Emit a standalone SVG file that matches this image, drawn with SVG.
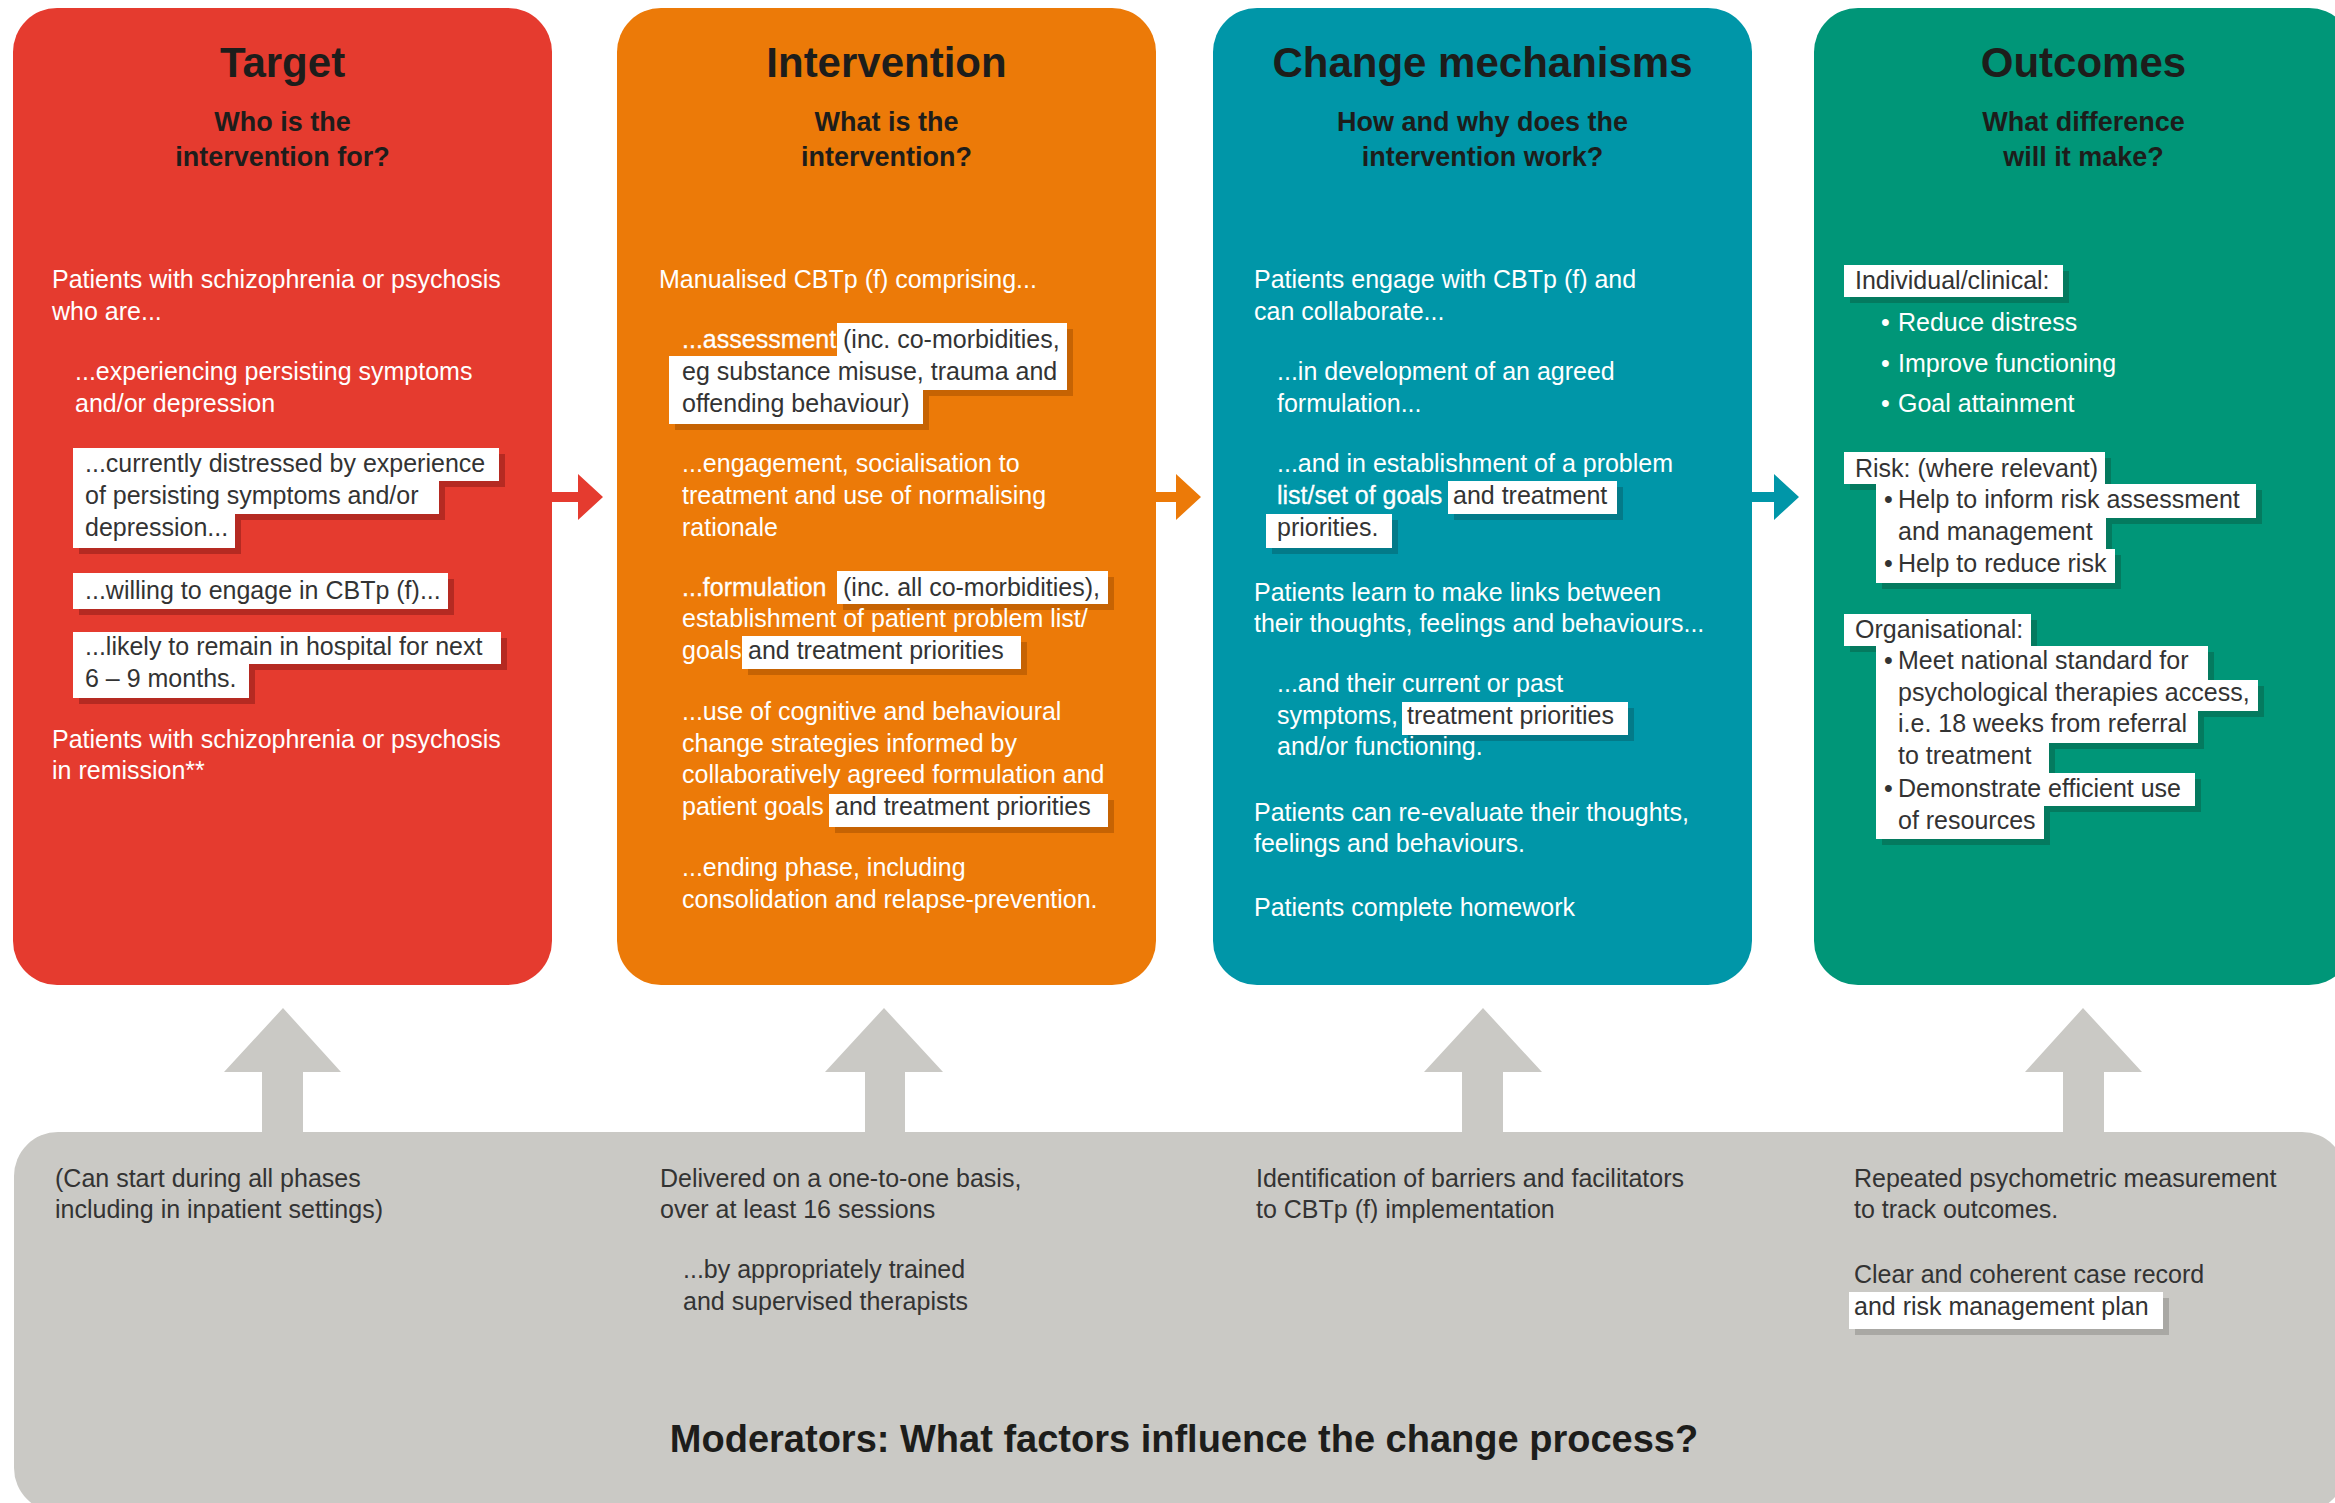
<svg xmlns="http://www.w3.org/2000/svg" width="2335" height="1503" viewBox="0 0 2335 1503">
<style>
text{font-family:"Liberation Sans",Arial,sans-serif}
.title{font-size:42px;font-weight:bold;fill:#1d1d1b;text-anchor:middle}
.sub{font-size:27px;font-weight:bold;fill:#1d1d1b;text-anchor:middle}
.b{font-size:25px;fill:#ffffff}
.d{fill:#333333}
.em{stroke:#ffffff;stroke-width:0.3}
.hl{fill:#ffffff}
.g{font-size:25px;fill:#333333}
.mod{font-size:38px;font-weight:bold;fill:#1d1d1b;text-anchor:middle}
</style>
<rect width="2335" height="1503" fill="#ffffff"/>

<g id="target">
<rect x="13" y="8" width="539" height="977" rx="44" fill="#e53b2f"/>
<text class="title" x="282.5" y="77">Target</text>
<text class="sub" x="282.5" y="131">Who is the</text>
<text class="sub" x="282.5" y="166">intervention for?</text>
<text class="b" x="52" y="288">Patients with schizophrenia or psychosis</text>
<text class="b" x="52" y="320">who are...</text>
<text class="b" x="75" y="380">...experiencing persisting symptoms</text>
<text class="b" x="75" y="412">and/or depression</text>
<g fill="#b52a22">
<rect x="79" y="454" width="426" height="33"/><rect x="79" y="487" width="366" height="33"/><rect x="79" y="520" width="162" height="34"/>
<rect x="79" y="579" width="375" height="36"/>
<rect x="79" y="638" width="428" height="32"/><rect x="79" y="670" width="176" height="34"/>
</g>
<g class="hl">
<rect x="73" y="448" width="426" height="33"/><rect x="73" y="481" width="366" height="33"/><rect x="73" y="514" width="162" height="34"/>
<rect x="73" y="573" width="375" height="36"/>
<rect x="73" y="632" width="428" height="32"/><rect x="73" y="664" width="176" height="34"/>
</g>
<text class="b d" x="85" y="472">...currently distressed by experience</text>
<text class="b d" x="85" y="504">of persisting symptoms and/or</text>
<text class="b d" x="85" y="536">depression...</text>
<text class="b d" x="85" y="599">...willing to engage in CBTp (f)...</text>
<text class="b d" x="85" y="655">...likely to remain in hospital for next</text>
<text class="b d" x="85" y="687">6 – 9 months.</text>
<text class="b" x="52" y="748">Patients with schizophrenia or psychosis</text>
<text class="b" x="52" y="779">in remission**</text>
</g>

<g id="intervention">
<rect x="617" y="8" width="539" height="977" rx="44" fill="#ec7a08"/>
<text class="title" x="886.5" y="77">Intervention</text>
<text class="sub" x="886.5" y="131">What is the</text>
<text class="sub" x="886.5" y="166">intervention?</text>
<text class="b" x="659" y="288">Manualised CBTp (f) comprising...</text>
<g fill="#c66303">
<rect x="843" y="329" width="230" height="33"/><rect x="675" y="362" width="398" height="34"/><rect x="675" y="396" width="254" height="34"/>
<rect x="843" y="577" width="271" height="33"/>
<rect x="748" y="642" width="279" height="33"/>
<rect x="835" y="800" width="279" height="33"/>
</g>
<g class="hl">
<rect x="837" y="323" width="230" height="33"/><rect x="669" y="356" width="398" height="34"/><rect x="669" y="390" width="254" height="34"/>
<rect x="837" y="571" width="271" height="33"/>
<rect x="742" y="636" width="279" height="33"/>
<rect x="829" y="794" width="279" height="33"/>
</g>
<text class="b em" x="682" y="348">...assessment</text>
<text class="b d" x="843" y="348">(inc. co-morbidities,</text>
<text class="b d" x="682" y="380">eg substance misuse, trauma and</text>
<text class="b d" x="682" y="412">offending behaviour)</text>
<text class="b" x="682" y="472">...engagement, socialisation to</text>
<text class="b" x="682" y="504">treatment and use of normalising</text>
<text class="b" x="682" y="536">rationale</text>
<text class="b em" x="682" y="596">...formulation</text>
<text class="b d" x="843" y="596">(inc. all co-morbidities),</text>
<text class="b" x="682" y="627">establishment of patient problem list/</text>
<text class="b" x="682" y="659">goals</text>
<text class="b d" x="748" y="659">and treatment priorities</text>
<text class="b" x="682" y="720">...use of cognitive and behavioural</text>
<text class="b" x="682" y="752">change strategies informed by</text>
<text class="b" x="682" y="783">collaboratively agreed formulation and</text>
<text class="b" x="682" y="815">patient goals</text>
<text class="b d" x="835" y="815">and treatment priorities</text>
<text class="b" x="682" y="876">...ending phase, including</text>
<text class="b" x="682" y="908">consolidation and relapse-prevention.</text>
</g>

<g id="change-mechanisms">
<rect x="1213" y="8" width="539" height="977" rx="44" fill="#0096a8"/>
<text class="title" x="1482.5" y="77">Change mechanisms</text>
<text class="sub" x="1482.5" y="131">How and why does the</text>
<text class="sub" x="1482.5" y="166">intervention work?</text>
<text class="b" x="1254" y="288">Patients engage with CBTp (f) and</text>
<text class="b" x="1254" y="320">can collaborate...</text>
<text class="b" x="1277" y="380">...in development of an agreed</text>
<text class="b" x="1277" y="412">formulation...</text>
<text class="b" x="1277" y="472">...and in establishment of a problem</text>
<g fill="#037a89">
<rect x="1454" y="487" width="169" height="33"/><rect x="1272" y="520" width="126" height="34"/>
<rect x="1408" y="708" width="226" height="33"/>
</g>
<g class="hl">
<rect x="1448" y="481" width="169" height="33"/><rect x="1266" y="514" width="126" height="34"/>
<rect x="1402" y="702" width="226" height="33"/>
</g>
<text class="b em" x="1277" y="504">list/set of goals</text>
<text class="b d" x="1453" y="504">and treatment</text>
<text class="b d" x="1277" y="536">priorities.</text>
<text class="b" x="1254" y="601">Patients learn to make links between</text>
<text class="b" x="1254" y="632">their thoughts, feelings and behaviours...</text>
<text class="b" x="1277" y="692">...and their current or past</text>
<text class="b" x="1277" y="724">symptoms,</text>
<text class="b d" x="1407" y="724">treatment priorities</text>
<text class="b" x="1277" y="755">and/or functioning.</text>
<text class="b" x="1254" y="821">Patients can re-evaluate their thoughts,</text>
<text class="b" x="1254" y="852">feelings and behaviours.</text>
<text class="b" x="1254" y="916">Patients complete homework</text>
</g>

<g id="outcomes">
<rect x="1814" y="8" width="539" height="977" rx="44" fill="#009678"/>
<text class="title" x="2083.5" y="77">Outcomes</text>
<text class="sub" x="2083.5" y="131">What difference</text>
<text class="sub" x="2083.5" y="166">will it make?</text>
<g fill="#047a5f">
<rect x="1850" y="271" width="219" height="32"/>
<rect x="1850" y="458" width="261" height="32"/>
<rect x="1882" y="490" width="380" height="34"/><rect x="1882" y="524" width="230" height="31"/><rect x="1882" y="555" width="239" height="34"/>
<rect x="1850" y="620" width="187" height="32"/>
<rect x="1882" y="652" width="332" height="34"/><rect x="1882" y="686" width="382" height="31"/><rect x="1882" y="717" width="322" height="32"/><rect x="1882" y="749" width="173" height="30"/><rect x="1882" y="779" width="319" height="33"/><rect x="1882" y="812" width="168" height="33"/>
</g>
<g class="hl">
<rect x="1844" y="265" width="219" height="32"/>
<rect x="1844" y="452" width="261" height="32"/>
<rect x="1876" y="484" width="380" height="34"/><rect x="1876" y="518" width="230" height="31"/><rect x="1876" y="549" width="239" height="34"/>
<rect x="1844" y="614" width="187" height="32"/>
<rect x="1876" y="646" width="332" height="34"/><rect x="1876" y="680" width="382" height="31"/><rect x="1876" y="711" width="322" height="32"/><rect x="1876" y="743" width="173" height="30"/><rect x="1876" y="773" width="319" height="33"/><rect x="1876" y="806" width="168" height="33"/>
</g>
<text class="b d" x="1855" y="289">Individual/clinical:</text>
<text class="b" x="1881" y="331">•</text><text class="b" x="1898" y="331">Reduce distress</text>
<text class="b" x="1881" y="372">•</text><text class="b" x="1898" y="372">Improve functioning</text>
<text class="b" x="1881" y="412">•</text><text class="b" x="1898" y="412">Goal attainment</text>
<text class="b d" x="1855" y="477">Risk: (where relevant)</text>
<text class="b d" x="1884" y="508">•</text><text class="b d" x="1898" y="508">Help to inform risk assessment</text>
<text class="b d" x="1898" y="540">and management</text>
<text class="b d" x="1884" y="572">•</text><text class="b d" x="1898" y="572">Help to reduce risk</text>
<text class="b d" x="1855" y="638">Organisational:</text>
<text class="b d" x="1884" y="669">•</text><text class="b d" x="1898" y="669">Meet national standard for</text>
<text class="b d" x="1898" y="701">psychological therapies access,</text>
<text class="b d" x="1898" y="732">i.e. 18 weeks from referral</text>
<text class="b d" x="1898" y="764">to treatment</text>
<text class="b d" x="1884" y="797">•</text><text class="b d" x="1898" y="797">Demonstrate efficient use</text>
<text class="b d" x="1898" y="829">of resources</text>
</g>

<g id="moderators">
<rect x="14" y="1132" width="2332" height="380" rx="44" fill="#cac9c5"/>
<text class="g" x="55" y="1187">(Can start during all phases</text>
<text class="g" x="55" y="1218">including in inpatient settings)</text>
<text class="g" x="660" y="1187">Delivered on a one-to-one basis,</text>
<text class="g" x="660" y="1218">over at least 16 sessions</text>
<text class="g" x="683" y="1278">...by appropriately trained</text>
<text class="g" x="683" y="1310">and supervised therapists</text>
<text class="g" x="1256" y="1187">Identification of barriers and facilitators</text>
<text class="g" x="1256" y="1218">to CBTp (f) implementation</text>
<text class="g" x="1854" y="1187">Repeated psychometric measurement</text>
<text class="g" x="1854" y="1218">to track outcomes.</text>
<text class="g" x="1854" y="1283">Clear and coherent case record</text>
<rect x="1855" y="1298" width="314" height="37" fill="#a9a8a4"/>
<rect x="1849" y="1292" width="314" height="37" fill="#ffffff"/>
<text class="g" x="1854" y="1315">and risk management plan</text>
<text class="mod" x="1184" y="1452">Moderators: What factors influence the change process?</text>
</g>

<g id="connectors">
<polygon points="552,492 578,492 578,474 603,497 578,520 578,502 552,502" fill="#e53b2f"/>
<polygon points="1155,492 1176,492 1176,474 1201,497 1176,520 1176,502 1155,502" fill="#ec7a08"/>
<polygon points="1752,492 1774,492 1774,474 1799,497 1774,520 1774,502 1752,502" fill="#0096a8"/>
<g fill="#cac9c5">
<polygon points="262,1134 262,1072 224,1072 283,1008 341,1072 303,1072 303,1134"/>
<polygon points="865,1134 865,1072 825,1072 884,1008 943,1072 905,1072 905,1134"/>
<polygon points="1462,1134 1462,1072 1424,1072 1483,1008 1542,1072 1503,1072 1503,1134"/>
<polygon points="2063,1134 2063,1072 2025,1072 2083,1008 2142,1072 2104,1072 2104,1134"/>
</g>
</g>
</svg>
